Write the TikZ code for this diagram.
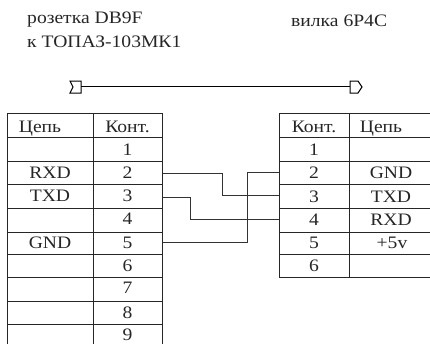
\documentclass[tikz,border=0pt]{standalone}
\usepackage{fontspec}
\setmainfont{Liberation Serif}[FakeStretch=1.12]
\begin{document}
\begin{tikzpicture}[x=1pt,y=-1pt,
  cell/.style={draw=black!85,line width=1pt,inner sep=0pt,minimum width=#1,font=\fontsize{17.5pt}{20pt}\selectfont,text height=10pt,text depth=0pt,text=black!85},
  wire/.style={draw=black!80,line width=1pt},
  label/.style={inner sep=0pt,anchor=base west,font=\fontsize{17.5pt}{20pt}\selectfont,text=black!85},
  conn/.style={draw=black,line width=1pt,fill=white}]
\useasboundingbox (0,0) rectangle (430,343);
\newcommand{\rowcell}[7]{% name, xcentre, width, ytop, ybottom, text, raise
  \node[cell=#3pt,minimum height={#5pt-#4pt}] (#1) at (#2,{(#4+#5)/2}) {\raisebox{#7pt}{#6}};}
% left table
\rowcell{ln0}{50}{86}{113}{137}{\hspace*{-20pt}Цепь}{-2}
\rowcell{ln1}{50}{86}{137}{161}{}{0}
\rowcell{ln2}{50}{86}{161}{184}{RXD}{-.5}
\rowcell{ln3}{50}{86}{184}{208}{TXD}{0}
\rowcell{ln4}{50}{86}{208}{232}{}{0}
\rowcell{ln5}{50}{86}{232}{254}{GND}{0}
\rowcell{ln6}{50}{86}{254}{277}{}{0}
\rowcell{ln7}{50}{86}{277}{301}{}{0}
\rowcell{ln8}{50}{86}{301}{324}{}{0}
\rowcell{ln9}{50}{86}{324}{350}{}{0}
\rowcell{lp0}{127.5}{69}{113}{137}{Конт.}{-2}
\rowcell{lp1}{127.5}{69}{137}{161}{1}{-1}
\rowcell{lp2}{127.5}{69}{161}{184}{2}{-.5}
\rowcell{lp3}{127.5}{69}{184}{208}{3}{0}
\rowcell{lp4}{127.5}{69}{208}{232}{4}{1}
\rowcell{lp5}{127.5}{69}{232}{254}{5}{0}
\rowcell{lp6}{127.5}{69}{254}{277}{6}{-.5}
\rowcell{lp7}{127.5}{69}{277}{301}{7}{1}
\rowcell{lp8}{127.5}{69}{301}{324}{8}{-.5}
\rowcell{lp9}{127.5}{69}{324}{350}{9}{2}
% right table
\rowcell{rp0}{314}{70}{113}{137}{Конт.}{-2}
\rowcell{rp1}{314}{70}{137}{161}{1}{-1}
\rowcell{rp2}{314}{70}{161}{184}{2}{-.5}
\rowcell{rp3}{314}{70}{184}{208}{3}{-1}
\rowcell{rp4}{314}{70}{208}{232}{4}{0}
\rowcell{rp5}{314}{70}{232}{254}{5}{0}
\rowcell{rp6}{314}{70}{254}{277}{6}{-.5}
\rowcell{rn0}{394}{90}{113}{137}{\hspace*{-26pt}Цепь}{-2}
\rowcell{rn1}{394}{90}{137}{161}{}{0}
\rowcell{rn2}{394}{90}{161}{184}{\hspace*{-6pt}GND}{-.5}
\rowcell{rn3}{394}{90}{184}{208}{\hspace*{-6pt}TXD}{-1}
\rowcell{rn4}{394}{90}{208}{232}{\hspace*{-6pt}RXD}{0}
\rowcell{rn5}{394}{90}{232}{254}{\hspace*{-4pt}+5v}{0}
\rowcell{rn6}{394}{90}{254}{277}{}{0}
% wires
\coordinate (a1) at (222,173);\coordinate (a2) at (222,195);
\coordinate (b1) at (190,197);\coordinate (b2) at (190,219);
\coordinate (c1) at (247,242);\coordinate (c2) at (247,172);
\draw[wire] (lp2.east |- a1) -- (a1) -- (a2) -- (rp3.west |- a2);
\draw[wire] (lp3.east |- b1) -- (b1) -- (b2) -- (rp4.west |- b2);
\draw[wire] (lp5.east |- c1) -- (c1) -- (c2) -- (rp2.west |- c2);
% labels
\node[label] (t1) at (27,23.5) {розетка DB9F};
\node[label] (t2) at (27,47) {к ТОПАЗ-103МК1};
\node[label] (t3) at (291,26) {вилка 6P4C};
% connector symbols
\node[inner sep=0pt,minimum size=0pt] (sl) at (81,86) {};
\node[inner sep=0pt,minimum size=0pt] (sr) at (350,86) {};
\draw[conn] (81,81) -- (70,81) -- (73,87) -- (70,93) -- (81,93) -- cycle;
\draw[conn] (350,81) -- (358,81) -- (362,87) -- (358,93) -- (350,93) -- cycle;
\draw[draw=black,line width=1pt] (sl) -- (sr);
\end{tikzpicture}
\end{document}
